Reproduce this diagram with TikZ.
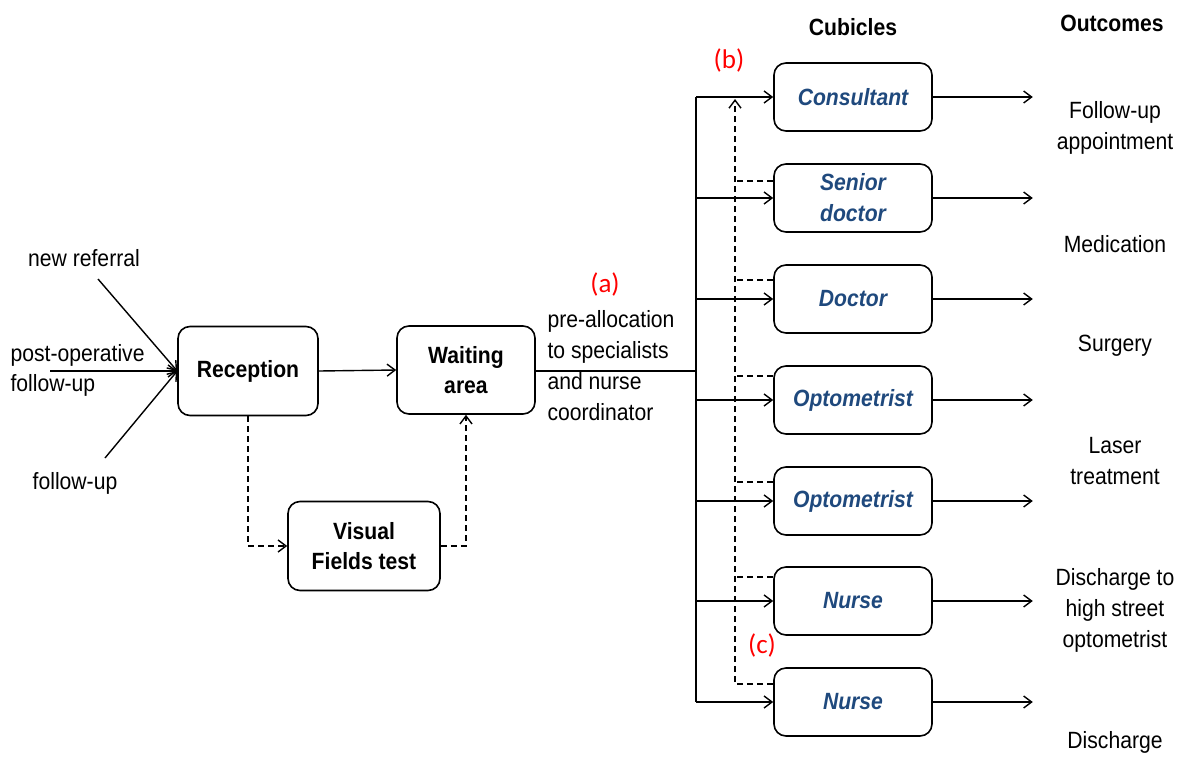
\documentclass[tikz,border=0pt]{standalone}
\usepackage{fontspec}
\setmainfont[FakeStretch=0.9]{Liberation Sans}
\newfontfamily\labfont{Carlito}
\usetikzlibrary{arrows.meta}
\definecolor{cubblue}{RGB}{31,73,125}
\definecolor{labred}{RGB}{255,0,0}
\begin{document}
\begin{tikzpicture}[x=1pt,y=-1pt,
  every node/.style={font=\fontsize{23.5}{30}\selectfont},
  box/.style={draw,line width=1.6pt,rounded corners=12pt,inner sep=0pt,align=center,font=\fontsize{23.5}{30}\selectfont\bfseries},
  cub/.style={box,minimum width=158pt,minimum height=68pt,text=cubblue,font=\fontsize{23.5}{31}\selectfont\bfseries\itshape},
  arr/.style={line width=1.4pt,-{Straight Barb[length=8pt,width=12pt]}},
  dsh/.style={line width=1.4pt,dash pattern=on 6pt off 4pt},
  darr/.style={dsh,-{Straight Barb[length=8pt,width=12pt]}},
  head/.style={font=\fontsize{23.5}{30}\selectfont\bfseries},
  outc/.style={align=center,font=\fontsize{23.5}{31}\selectfont},
  lab/.style={text=labred,font=\fontsize{27}{30}\selectfont\labfont}
]
\useasboundingbox (0,0) rectangle (1184,756);

% main boxes
\node[box,minimum width=140pt,minimum height=89pt] (rec) at (248,371) {Reception};
\node[box,minimum width=138pt,minimum height=88pt] (wait) at (466,370) {Waiting\\area};
\node[box,minimum width=152pt,minimum height=89pt] (vis) at (364,546) {Visual\\Fields test};

% cubicles
\node[cub] (c1) at (853,97) {Consultant};
\node[cub] (c2) at (853,198) {Senior\\doctor};
\node[cub] (c3) at (853,299) {Doctor};
\node[cub] (c4) at (853,400) {Optometrist};
\node[cub] (c5) at (853,501) {Optometrist};
\node[cub] (c6) at (853,601) {Nurse};
\node[cub] (c7) at (853,702) {Nurse};

% headers
\node[head] (hcub) at (853,27) {Cubicles};
\node[head] (hout) at (1112,23) {Outcomes};

% outcomes
\node[outc] (o1) at (1115,128) {Follow-up\\appointment};
\node[outc] (o2) at (1115,244) {Medication};
\node[outc] (o3) at (1115,346) {Surgery};
\node[outc] (o4) at (1115,461) {Laser\\treatment};
\node[outc] (o5) at (1115,610) {Discharge to\\high street\\optometrist};
\node[outc] (o6) at (1115,742) {Discharge};

% inputs
\node (inew) at (84,258) {new referral};
\node[anchor=west,align=left] (ipost) at (7,370) {post-operative\\follow-up};
\node (ifol) at (75,483) {follow-up};
\coordinate (snew) at (98,279);
\coordinate (spost) at (50,371);
\coordinate (sfol) at (105,458);
\draw[arr] (snew) -- (rec.west);
\draw[arr] (spost) -- (rec.west);
\draw[arr] (sfol) -- (rec.west);

% reception to waiting
\draw[arr] (rec.east) -- (wait.west);

% visual fields dashed
\draw[darr] (rec.south) |- (vis.west);
\draw[darr] (vis.east) -| (wait.south);

% pre-allocation text
\node[anchor=west,align=left,font=\fontsize{23.5}{31}\selectfont] (pre) at (544,366) {pre-allocation\\to specialists\\and nurse\\coordinator};

% trunk
\coordinate (tx) at (696,371);
\draw[line width=2.6pt] (wait.east |- tx) -- (tx);
\draw[line width=1.8pt] (tx |- c1.west) -- (tx |- c7.west);
\foreach \i in {1,...,7} {
  \draw[arr] (tx |- c\i.west) -- (c\i.west);
  \draw[arr] (c\i.east) -- ++(100,0);
}

% dashed return line
\coordinate (dtop) at (735,99);
\coordinate (dbot) at (735,684);
\draw[darr] (c7.west |- dbot) -- (dbot) -- (dtop);
\foreach \i/\y in {2/181,3/280,4/376,5/482,6/577} {
  \draw[dsh] (c\i.west |- 0,\y) -- (735,\y);
}

% red labels
\node[lab] (la) at (605,284) {(a)};
\node[lab] (lb) at (729,60) {(b)};
\node[lab] (lc) at (762,645) {(c)};
\end{tikzpicture}
\end{document}
